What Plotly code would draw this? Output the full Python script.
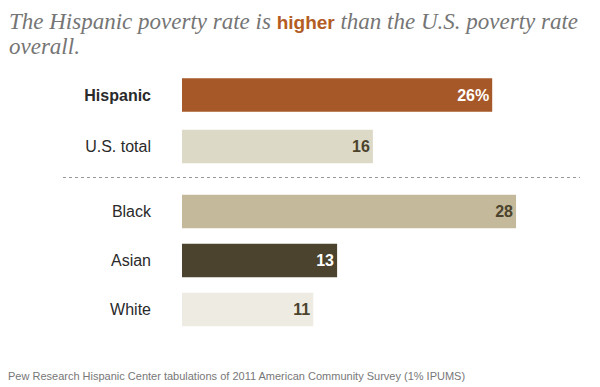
import plotly.graph_objects as go

categories = ["Hispanic", "U.S. total", "Black", "Asian", "White"]
values = [26, 16, 28, 13, 11]
value_labels = ["26%", "16", "28", "13", "11"]
bar_colors = ["#A65829", "#DDD9C7", "#C4BA9B", "#4B432D", "#EEEBE3"]
label_colors = ["#FFFFFF", "#4B432D", "#4B432D", "#FFFFFF", "#4B432D"]
tick_labels = ["<b>Hispanic</b>", "U.S. total", "Black", "Asian", "White"]

# positions: first group, gap, second group
positions = [0, 1.03, 2.33, 3.31, 4.29]

# the page body adds an 8px offset, so the figure is drawn 8px smaller
OFF = 8
L, T, W, H = 182 - OFF, 70 - OFF, 398, 265

fig = go.Figure()
fig.add_trace(go.Bar(
    x=values, y=positions, orientation="h",
    marker=dict(color=bar_colors, line=dict(width=0)),
    width=0.67,
    text=value_labels, textposition="inside", insidetextanchor="end",
    textfont=dict(family="Liberation Sans", size=16, color=label_colors, weight="bold"),
    hoverinfo="skip",
))

def px_x(ref_x):
    return (ref_x - OFF - L) / W

def px_y(ref_y):
    return 1 - (ref_y - OFF - T) / H

fig.update_layout(
    width=600 - OFF, height=387 - OFF,
    margin=dict(l=L, r=600 - OFF - L - W, t=T, b=387 - OFF - T - H, autoexpand=False),
    paper_bgcolor="white", plot_bgcolor="white",
    showlegend=False,
    xaxis=dict(range=[0, 33.36], visible=False, fixedrange=True),
    yaxis=dict(range=[4.8, -0.5], tickvals=positions, ticktext=tick_labels,
               showgrid=False, zeroline=False, showline=False, ticks="",
               ticklabelstandoff=30,
               tickfont=dict(family="Liberation Sans", size=16, color="#2A2A2A")),
    shapes=[dict(type="line", xref="paper", yref="y",
                 x0=px_x(63), x1=px_x(580), y0=1.65, y1=1.65,
                 line=dict(color="#999999", width=1, dash="dot"))],
    annotations=[
        dict(xref="paper", yref="paper", x=px_x(7), y=px_y(21),
             xanchor="left", yanchor="middle", showarrow=False, align="left",
             text="<i>The Hispanic poverty rate is </i><b><span style='font-family:Liberation Sans;font-size:19px;color:#B35C24'>higher</span></b><i> than the U.S. poverty rate</i>",
             font=dict(family="Liberation Serif", size=23, color="#757575")),
        dict(xref="paper", yref="paper", x=px_x(7), y=px_y(46),
             xanchor="left", yanchor="middle", showarrow=False, align="left",
             text="<i>overall.</i>",
             font=dict(family="Liberation Serif", size=23, color="#757575")),
        dict(xref="paper", yref="paper", x=px_x(6), y=px_y(376),
             xanchor="left", yanchor="middle", showarrow=False, align="left",
             text="Pew Research Hispanic Center tabulations of 2011 American Community Survey (1% IPUMS)",
             font=dict(family="Liberation Sans", size=11, color="#777777")),
    ],
)

fig.write_html("out.html")
